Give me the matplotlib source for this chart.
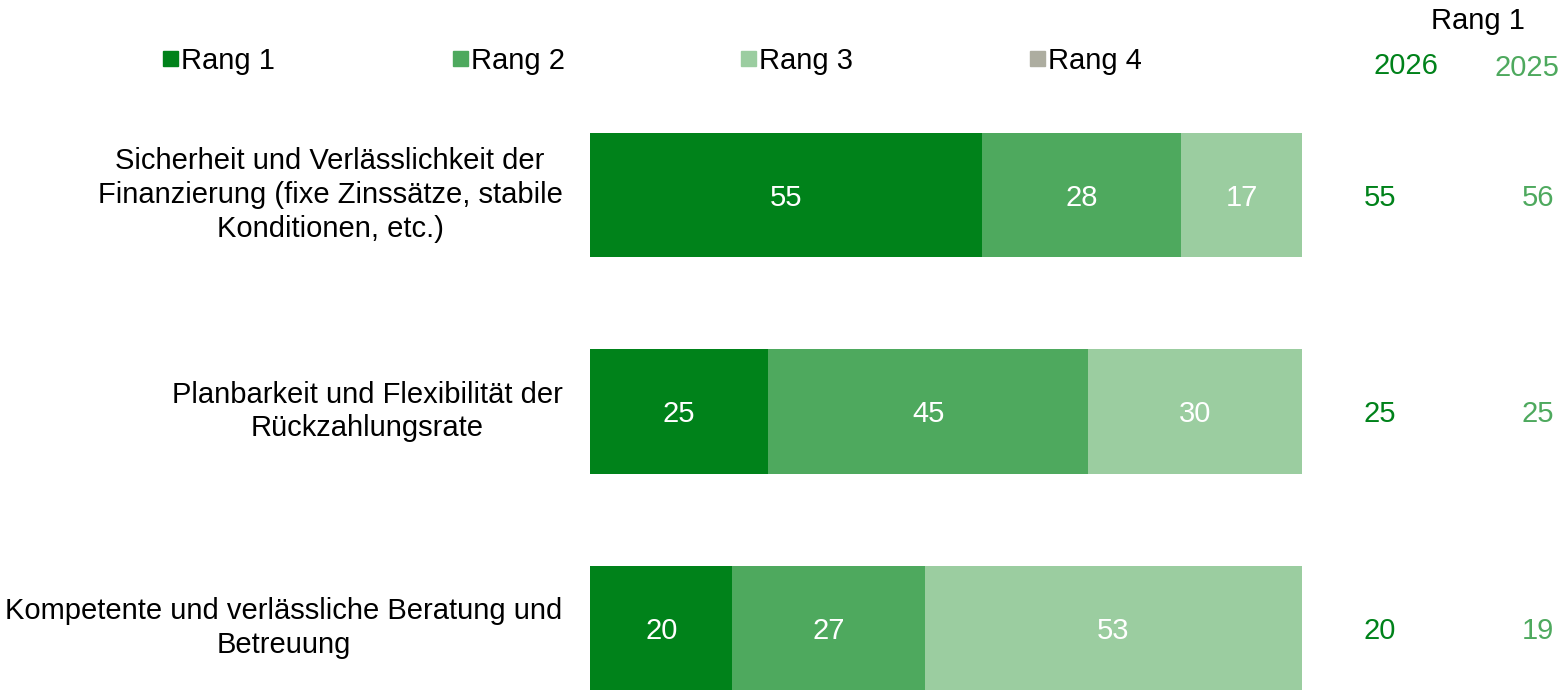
import matplotlib.pyplot as plt
from matplotlib.patches import Rectangle
import numpy as np

plt.rcParams['font.family'] = ['Liberation Sans', 'DejaVu Sans']

categories = [
    "Sicherheit und Verlässlichkeit der\nFinanzierung (fixe Zinssätze, stabile\nKonditionen, etc.)",
    "Planbarkeit und Flexibilität der\nRückzahlungsrate",
    "Kompetente und verlässliche Beratung und\nBetreuung",
]
series_names = ["Rang 1", "Rang 2", "Rang 3", "Rang 4"]
rang1 = [55, 25, 20]
rang2 = [28, 45, 27]
rang3 = [17, 30, 53]
rang4 = [0, 0, 0]
rang1_2026 = [55, 25, 20]
rang1_2025 = [56, 25, 19]

colors = ["#00821a", "#4ea95e", "#9bcda0", "#adada0"]
fs = 21

W, H = 1560, 692
fig = plt.figure(figsize=(W / 100, H / 100), dpi=100)

# axes placed so bars land where the reference has them
pitch = 216.5
top_px = 195 - 0.5 * pitch
ax = fig.add_axes([590 / W, 0, (1302 - 590) / W, 1 - top_px / H])
ylo = 2 + (692 - 628) / pitch
ax.set_ylim(ylo, -0.5)
ax.set_xlim(0, 100)
ax.axis("off")

y = np.arange(len(categories))
left = np.zeros(len(categories))
for vals, col in zip([rang1, rang2, rang3, rang4], colors):
    vals = np.array(vals)
    bars = ax.barh(y, vals, left=left, height=0.573, color=col, edgecolor="none")
    for b, v in zip(bars, vals):
        if v > 0:
            ax.text(b.get_x() + b.get_width() / 2, b.get_y() + b.get_height() / 2,
                    str(v), ha="center", va="center_baseline", color="white",
                    fontsize=fs)
    left += vals

# category labels
for yi, lab in zip(y, categories):
    ax.text(-27.5 / 7.12, yi, lab, ha="right", va="center",
            multialignment="center", fontsize=fs, linespacing=1.27)

# right-hand columns: Rang 1 in 2026 / 2025
to_data_x = lambda px: (px - 590) / 7.12
for yi, a, b in zip(y, rang1_2026, rang1_2025):
    ax.text(to_data_x(1380), yi, str(a), ha="center", va="center_baseline",
            color=colors[0], fontsize=fs, clip_on=False)
    ax.text(to_data_x(1538), yi, str(b), ha="center", va="center_baseline",
            color=colors[1], fontsize=fs, clip_on=False)

fig.text(1478 / W, 1 - 18 / H, "Rang 1", ha="center", va="center_baseline",
         fontsize=fs)
fig.text(1406 / W, 1 - 63 / H, "2026", ha="center", va="center_baseline",
         fontsize=fs, color=colors[0])
fig.text(1527 / W, 1 - 65 / H, "2025", ha="center", va="center_baseline",
         fontsize=fs, color=colors[1])

# legend
leg_x = [163, 453, 741, 1030]
for lx, name, col in zip(leg_x, series_names, colors):
    fig.patches.append(Rectangle((lx / W, 1 - 66 / H), 15 / W, 15 / H,
                                 transform=fig.transFigure, color=col))
    fig.text((lx + 18) / W, 1 - 58 / H, name, ha="left", va="center_baseline",
             fontsize=fs)

fig.savefig("out.png", dpi=100)
